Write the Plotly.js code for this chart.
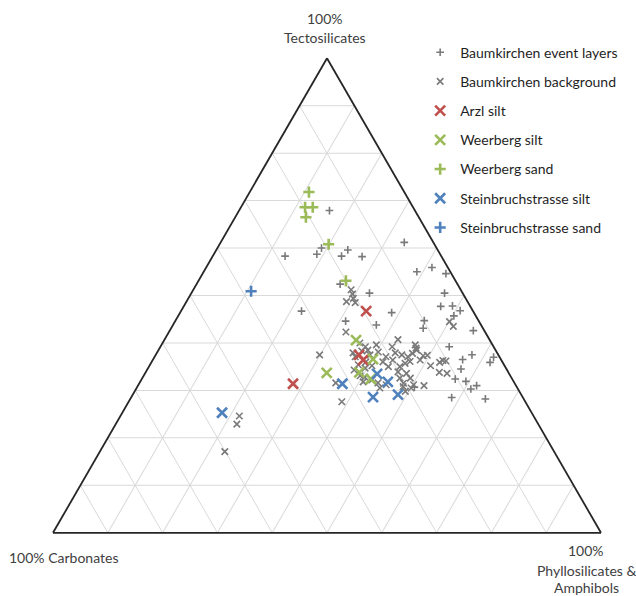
<!DOCTYPE html>
<html>
<head>
<meta charset="utf-8">
<script src="https://cdn.plot.ly/plotly-3.0.1.min.js"></script>
<style>
  html, body { margin: 0; padding: 0; background: #ffffff; }
  #chart { width: 636px; height: 596px; }
</style>
</head>
<body>
<div id="chart"></div>
<script>
// Axis names
const axisTop = "Tectosilicates";
const axisLeft = "Carbonates";
const axisRight = "Phyllosilicates & Amphibols";

// Series names
const seriesNames = [
  "Baumkirchen event layers",
  "Baumkirchen background",
  "Arzl silt",
  "Weerberg silt",
  "Weerberg sand",
  "Steinbruchstrasse silt",
  "Steinbruchstrasse sand"
];

// Values in % (Tectosilicates = a, Phyllosilicates & Amphibols = c; Carbonates = remainder)
const eventTecto = [67.9,58.3,58.7,60.0,58.3,59.6,58.2,52.4,61.2,55.0,55.9,54.6,50.5,46.7,46.4,50.5,47.7,47.8,46.8,44.7,43.1,44.6,43.8,42.6,39.2,37.0,35.9,36.5,37.5,34.5,32.4,31.9,30.3,31.0,30.7,28.5,28.2,45.7];
const eventPhyllo = [16.5,13.2,18.8,19.0,23.5,24.0,27.3,26.2,33.5,38.9,41.2,44.4,32.5,22.0,38.6,46.2,46.9,49.0,50.9,45.4,46.0,31.1,37.1,55.4,52.7,61.9,61.8,56.5,57.7,57.2,57.2,59.4,61.1,61.8,50.6,58.5,64.8,50.3];

const backTecto = [24.6,22.9,17.1,50.3,49.4,48.7,48.5,51.2,42.3,37.5,31.6,27.6,40.7,39.6,38.9,44.5,43.5,37.4,36.3,35.9,36.2,35.2,33.8,33.6,31.0,30.8,40.0,39.2,38.3,38.5,37.5,36.0,35.4,34.7,33.1,32.8,31.8,32.2,31.6,30.5,31.2,37.1,36.0,35.0,37.9,37.5,37.1,37.8,38.5,35.7,36.1,35.0,36.4,37.3,33.6,32.6,31.5,31.2,30.5,29.8,36.4,33.9,39.6,38.1,39.2,35.2,37.1,34.3,32.6,37.9];
const backPhyllo = [21.7,22.1,22.8,29.5,30.1,29.2,30.9,28.8,32.3,29.9,35.8,38.9,42.6,46.3,46.8,50.1,51.3,49.6,53.0,52.6,53.6,51.3,53.6,55.1,52.2,48.5,36.0,37.4,37.2,38.2,39.1,39.1,38.0,39.6,39.5,40.5,40.7,42.1,43.5,44.4,45.2,42.2,42.2,43.7,43.5,44.9,46.2,46.7,47.1,46.4,47.1,45.8,48.8,48.9,47.7,48.9,48.2,50.2,50.1,49.4,43.8,46.0,39.2,40.3,42.3,40.6,36.6,37.8,47.0,35.8];

const arzlSiltTecto = [46.7,37.5,36.4,31.4];
const arzlSiltPhyllo = [33.8,37.1,38.4,28.1];

const weerSiltTecto = [40.6,36.6,33.7,33.8,32.4];
const weerSiltPhyllo = [35.0,40.1,33.1,39.0,41.8];

const weerSandTecto = [71.8,68.6,68.6,66.5,60.8,53.1];
const weerSandPhyllo = [10.8,11.7,13.1,12.9,19.9,26.9];

const steinSiltTecto = [25.3,31.4,33.5,31.8,28.6,29.1];
const steinSiltPhyllo = [18.2,37.1,42.4,45.2,44.1,48.4];

const steinSandTecto = [50.9];
const steinSandPhyllo = [10.7];

const GRAY = '#7a7a7a', RED = '#c0504d', GREEN = '#9bbb59', BLUE = '#4f81bd';

function tr(name, a, c, symbol, color, size, lw) {
  return {
    type: 'scatterternary', mode: 'markers', name: name, legendgroup: name,
    a: a, c: c,
    marker: { symbol: symbol, size: size, color: color, line: { color: color, width: lw } },
    hoverinfo: 'skip'
  };
}

const data = [
  tr(seriesNames[0], eventTecto, eventPhyllo, 'cross-thin', GRAY, 5.5, 1.6),
  tr(seriesNames[1], backTecto, backPhyllo, 'x-thin', GRAY, 6.5, 1.6),
  tr(seriesNames[2], arzlSiltTecto, arzlSiltPhyllo, 'x-thin', RED, 10, 2.6),
  tr(seriesNames[3], weerSiltTecto, weerSiltPhyllo, 'x-thin', GREEN, 10, 2.6),
  tr(seriesNames[4], weerSandTecto, weerSandPhyllo, 'cross-thin', GREEN, 8, 2.6),
  tr(seriesNames[5], steinSiltTecto, steinSiltPhyllo, 'x-thin', BLUE, 10, 2.6),
  tr(seriesNames[6], steinSandTecto, steinSandPhyllo, 'cross-thin', BLUE, 8, 2.6)
];

const axisStyle = {
  title: { text: '' },
  showticklabels: false,
  ticks: '',
  showgrid: true,
  gridcolor: '#d9d9d9',
  gridwidth: 1,
  dtick: 10,
  tick0: 0,
  min: 0,
  linecolor: '#262626',
  linewidth: 1.8,
  showline: true
};

const FONT = 'Lato, "Open Sans", sans-serif';
const TXT = '#404040';

const layout = {
  width: 636, height: 596,
  margin: { l: 53, r: 35, t: 58, b: 63 },
  paper_bgcolor: '#ffffff',
  font: { family: FONT, size: 14, color: TXT },
  showlegend: true,
  legend: {
    x: 0.67, y: 1.045, xanchor: 'left', yanchor: 'top',
    bgcolor: 'rgba(0,0,0,0)',
    font: { family: FONT, size: 14, color: '#1f1f1f' },
    tracegroupgap: 8,
    itemwidth: 30
  },
  ternary: {
    sum: 100,
    bgcolor: '#ffffff',
    domain: { x: [0, 1], y: [0, 1] },
    aaxis: axisStyle,
    baxis: axisStyle,
    caxis: axisStyle
  },
  annotations: [
    { xref: 'paper', yref: 'paper', x: 0.4964, y: 1.0, yshift: 40, text: '100%', showarrow: false, xanchor: 'center', yanchor: 'middle' },
    { xref: 'paper', yref: 'paper', x: 0.4964, y: 1.0, yshift: 21, text: axisTop, showarrow: false, xanchor: 'center', yanchor: 'middle' },
    { xref: 'paper', yref: 'paper', x: -0.0839, y: 0, yshift: -24, text: '100% ' + axisLeft, showarrow: false, xanchor: 'left', yanchor: 'middle' },
    { xref: 'paper', yref: 'paper', x: 0.9727, y: 0, yshift: -17, text: '100%', showarrow: false, xanchor: 'center', yanchor: 'middle' },
    { xref: 'paper', yref: 'paper', x: 0.9727, y: 0, yshift: -37, text: 'Phyllosilicates &', showarrow: false, xanchor: 'center', yanchor: 'middle' },
    { xref: 'paper', yref: 'paper', x: 0.9727, y: 0, yshift: -54, text: 'Amphibols', showarrow: false, xanchor: 'center', yanchor: 'middle' }
  ]
};

Plotly.newPlot('chart', data, layout, { displayModeBar: false, staticPlot: true });
</script>
</body>
</html>
